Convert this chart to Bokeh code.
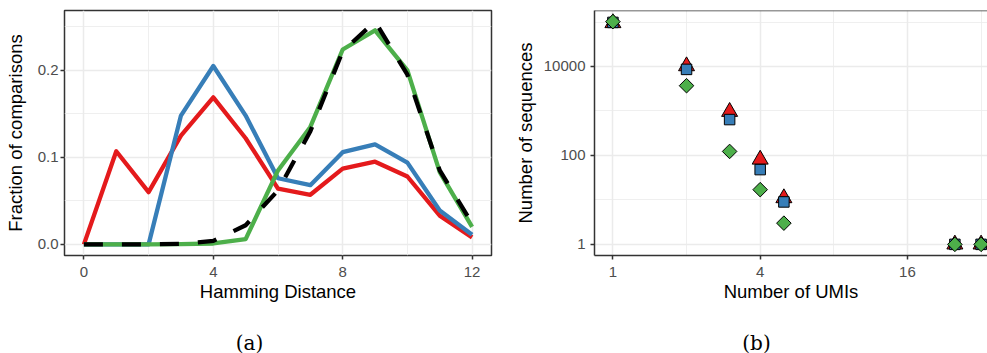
import math
from bokeh.plotting import figure
from bokeh.layouts import row, column
from bokeh.models import Range1d, FixedTicker, Span, BasicTickFormatter, NumeralTickFormatter
from bokeh.core.properties import value
from bokeh.embed import file_html
from bokeh.resources import INLINE

# ---------------- data: panel (a) ----------------
hamming = list(range(13))
frac_red = [0.0, 0.107, 0.060, 0.125, 0.169, 0.122, 0.064, 0.057, 0.087, 0.095, 0.078, 0.033, 0.008]
frac_blue = [0.0, 0.0, 0.0, 0.148, 0.205, 0.148, 0.076, 0.068, 0.106, 0.115, 0.094, 0.039, 0.011]
frac_green = [0.0, 0.0, 0.0, 0.0003, 0.001, 0.006, 0.085, 0.135, 0.224, 0.246, 0.200, 0.083, 0.020]
frac_expected = [0.0, 0.0, 0.0, 0.0005, 0.004, 0.022, 0.062, 0.130, 0.222, 0.256, 0.195, 0.085, 0.024]
a_xticks = [0, 4, 8, 12]
a_xminor = [2, 6, 10]
a_yticks = [0.0, 0.1, 0.2]
a_yminor = [0.05, 0.15, 0.25]

# ---------------- data: panel (b) ----------------
umis = [1, 2, 3, 4, 5, 25, 32]
seq_red = [95000, 10200, 960, 81, 11, 1, 1]
seq_blue = [98000, 8600, 640, 48, 9, 1, 1]
seq_green = [102000, 3700, 123, 17, 3, 1, 1]
b_xticks = [1, 4, 16]
b_xminor = [2, 8, 32]
b_yticks = [1, 100, 10000]
b_yminor = [10, 1000, 100000]

captions = ["(a)", "(b)"]

RED, BLUE, GREEN = "#E41A1C", "#377EB8", "#4DAF4A"
DARK = "#333333"
GRID = "#EBEBEB"
FONT = "Liberation Sans"

FH = 245          # frame height
TOP = 10          # border above frames
BOTTOM = 55       # border below frames
CAP_H = 43        # caption strip height
W1_FRAME, W2_FRAME = 427, 393
L1, R1 = 64, 11
L2, R2 = 92, 0


def expand(lo, hi, f=0.05):
    d = hi - lo
    return lo - f * d, hi + f * d


# ---------------- panel (a) ----------------
ax0, ax1 = expand(min(hamming), max(hamming))
allv = frac_red + frac_blue + frac_green + frac_expected
ay0, ay1 = expand(min(allv), max(allv))

p1 = figure(frame_width=W1_FRAME, frame_height=FH, min_border_left=L1, min_border_right=R1,
            min_border_top=TOP, min_border_bottom=BOTTOM,
            x_range=Range1d(ax0, ax1), y_range=Range1d(ay0, ay1),
            output_backend="svg", toolbar_location=None)

for ys, col in ((frac_red, RED), (frac_blue, BLUE), (frac_green, GREEN)):
    p1.line(hamming, ys, line_color=col, line_width=4.3, line_join="round")
p1.line(hamming, frac_expected, line_color="black", line_width=4.3, line_dash="19 19", line_join="round")

p1.xaxis.ticker = FixedTicker(ticks=a_xticks, minor_ticks=a_xminor)
p1.yaxis.ticker = FixedTicker(ticks=a_yticks, minor_ticks=a_yminor)
p1.yaxis.formatter = NumeralTickFormatter(format="0.0")
p1.xaxis.axis_label = "Hamming Distance"
p1.yaxis.axis_label = "Fraction of comparisons"
p1.outline_line_color = DARK
p1.outline_line_width = 1.5
p1.xaxis.axis_line_color = None
p1.yaxis.axis_line_color = None
p1.yaxis.major_label_standoff = 2
p1.yaxis.axis_label_standoff = 9

# ---------------- panel (b) ----------------
lx0 = math.log2(min(umis))
lx1 = math.log2(max(umis))
bx0l, bx1l = expand(lx0, lx1)
full_w = 405.0   # full ggplot panel width; the reference crops it at the page edge
bx1l_vis = bx0l + (bx1l - bx0l) * W2_FRAME / full_w
ally = seq_red + seq_blue + seq_green
by0l, by1l = expand(math.log10(min(ally)), math.log10(max(ally)))

p2 = figure(frame_width=W2_FRAME, frame_height=FH, min_border_left=L2, min_border_right=R2,
            min_border_top=TOP, min_border_bottom=BOTTOM,
            x_axis_type="log", y_axis_type="log",
            x_range=Range1d(2 ** bx0l, 2 ** bx1l_vis), y_range=Range1d(10 ** by0l, 10 ** by1l),
            output_backend="svg", toolbar_location=None)

p2.scatter(umis, seq_red, marker="triangle", size=16, fill_color=RED, line_color="black", line_width=1)
p2.scatter(umis, seq_blue, marker="square", size=10.5, fill_color=BLUE, line_color="black", line_width=1)
p2.scatter(umis, seq_green, marker="square", angle=math.pi / 4, size=10.3, fill_color=GREEN,
           line_color="black", line_width=1)

p2.xaxis.ticker = FixedTicker(ticks=b_xticks, minor_ticks=b_xminor)
p2.yaxis.ticker = FixedTicker(ticks=b_yticks, minor_ticks=b_yminor)
p2.xaxis.formatter = BasicTickFormatter()
p2.yaxis.formatter = BasicTickFormatter()
p2.xaxis.axis_label = "Number of UMIs"
p2.yaxis.axis_label = "Number of sequences"
p2.outline_line_color = None
p2.xaxis.axis_line_color = DARK
p2.yaxis.axis_line_color = DARK
p2.xaxis.axis_line_width = 1.5
p2.yaxis.axis_line_width = 1.5
p2.add_layout(Span(location=10 ** by1l, dimension="width", line_color=DARK, line_width=1.5))
p2.yaxis.major_label_standoff = 5
p2.yaxis.axis_label_standoff = 5

# ---------------- common styling ----------------
for p in (p1, p2):
    p.background_fill_color = "white"
    p.border_fill_color = "white"
    for ax in p.axis:
        ax.major_tick_out = 4
        ax.major_tick_in = 0
        ax.minor_tick_out = 0
        ax.minor_tick_in = 0
        ax.minor_tick_line_color = None
        ax.major_tick_line_color = DARK
        ax.major_tick_line_width = 1.5
        ax.major_label_text_font = FONT
        ax.major_label_text_font_size = "15px"
        ax.major_label_text_color = "#4D4D4D"
        ax.axis_label_text_font = FONT
        ax.axis_label_text_font_size = "18.5px"
        ax.axis_label_text_font_style = "normal"
        ax.axis_label_text_color = "black"
    p.xaxis.major_label_standoff = 7
    p.xaxis.axis_label_standoff = 1
    for g in p.grid:
        g.grid_line_color = GRID
        g.grid_line_width = 1.5
        g.minor_grid_line_color = GRID
        g.minor_grid_line_width = 0.8

# ---------------- caption strip ----------------
total_w = L1 + W1_FRAME + R1 + L2 + W2_FRAME + R2
top_h = TOP + FH + BOTTOM
p3 = figure(width=total_w, height=CAP_H, min_border=0,
            x_range=Range1d(0, total_w), y_range=Range1d(top_h + CAP_H, top_h),
            output_backend="svg", toolbar_location=None)
p3.xaxis.visible = False
p3.yaxis.visible = False
p3.grid.visible = False
p3.outline_line_color = None
p3.background_fill_color = "white"
p3.border_fill_color = "white"
cap_x = [249, 756]
cap_y = [top_h + 32, top_h + 32]
p3.text(x=cap_x, y=cap_y, text=captions, text_align="center", text_baseline="middle",
        text_font=value("DejaVu Serif"), text_font_size=value("20px"), text_color="black")

layout = column(row(p1, p2), p3)
open("out.html", "w").write(file_html(layout, INLINE))
